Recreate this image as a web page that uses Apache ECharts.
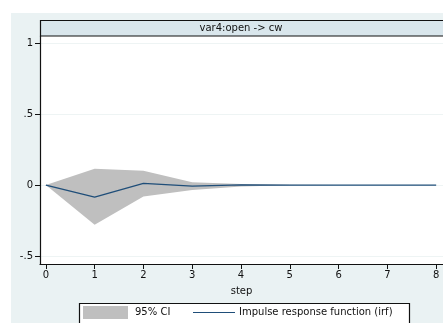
<!DOCTYPE html>
<html><head><meta charset="utf-8">
<script src="https://cdn.jsdelivr.net/npm/echarts@6/dist/echarts.min.js"></script>
<style>html,body{margin:0;padding:0;background:#fff}#c{width:443px;height:323px}</style>
</head><body><div id="c"></div>
<script>
var steps = [0, 1, 2, 3, 4, 5, 6, 7, 8];
var irf   = [0, -0.085, 0.012, -0.008, 0.002, 0, 0, 0, 0];
var ciLow = [0, -0.28, -0.08, -0.035, -0.01, -0.002, 0, 0, 0];
var ciUp  = [0, 0.115, 0.10, 0.02, 0.008, 0.002, 0, 0, 0];
var yTicks = [-0.5, 0, 0.5, 1];
var xTicks = [0, 1, 2, 3, 4, 5, 6, 7, 8];
var panelTitle = 'var4:open -> cw';
var xTitle = 'step';
var legendNames = ['95% CI', 'Impulse response function (irf)'];

var font = '"DejaVu Sans", Verdana, sans-serif';
var chart = echarts.init(document.getElementById('c'));
function fmtY(v){ if (v===0) return '0'; var s=String(v); return s.replace('0.', '.'); }
chart.setOption({
  animation: false,
  backgroundColor: '#fff',
  graphic: [
    {type:'rect', shape:{x:11,y:13,width:440,height:320}, style:{fill:'#eaf2f3'}, z:-10, silent:true},
    {type:'rect', shape:{x:40,y:36,width:410,height:228}, style:{fill:'#fff'}, z:-9, silent:true},
    {type:'rect', shape:{x:40.5,y:20.5,width:410,height:15.5}, style:{fill:'#d9e6ec', stroke:'#111', lineWidth:1.2}, z:5},
    {type:'text', x:241, y:28, style:{text:panelTitle, fill:'#111', font:'10px '+font, align:'center', verticalAlign:'middle'}, z:6},
    {type:'rect', shape:{x:79.5,y:303.5,width:330,height:30}, style:{fill:'#fff', stroke:'#111', lineWidth:1.2}, z:5},
    {type:'rect', shape:{x:83,y:306,width:45,height:13}, style:{fill:'#bfbfbf'}, z:6},
    {type:'text', x:135, y:312.5, style:{text:legendNames[0], fill:'#111', font:'10px '+font, verticalAlign:'middle'}, z:6},
    {type:'line', shape:{x1:193,y1:312.5,x2:235,y2:312.5}, style:{stroke:'#1f4e79', lineWidth:1.2}, z:6},
    {type:'text', x:239, y:312.5, style:{text:legendNames[1], fill:'#111', font:'10px '+font, verticalAlign:'middle'}, z:6}
  ],
  grid: {left:40, top:36, width:407, height:228, containLabel:false},
  xAxis: {
    type:'value', min:-0.12, max:8.14,
    name: xTitle, nameLocation:'middle', nameGap:22,
    nameTextStyle:{color:'#111', fontSize:10, fontFamily:font},
    axisLine:{show:true, onZero:false, lineStyle:{color:'#111', width:1.2}},
    axisTick:{show:true, length:5, customValues:xTicks, lineStyle:{color:'#111'}},
    axisLabel:{customValues:xTicks, color:'#111', fontSize:10, fontFamily:font, margin:6},
    splitLine:{show:false}
  },
  yAxis: {
    type:'value', min:-0.556, max:1.05,
    axisLine:{show:true, onZero:false, lineStyle:{color:'#111', width:1.2}},
    axisTick:{show:true, length:5, customValues:yTicks, lineStyle:{color:'#111'}},
    axisLabel:{customValues:yTicks, formatter:fmtY, color:'#111', fontSize:10, fontFamily:font, margin:7},
    splitLine:{show:true, lineStyle:{color:'#eef4f4', width:1}}
  },
  series: [
    {type:'line', name:'ciLow', data: steps.map(function(s,i){return [s, ciLow[i]];}),
     symbol:'none', lineStyle:{width:0, opacity:0}, areaStyle:{color:'#bfbfbf', opacity:1, origin:0}, silent:true, z:2},
    {type:'line', name:legendNames[0], data: steps.map(function(s,i){return [s, ciUp[i]];}),
     symbol:'none', lineStyle:{width:0, opacity:0}, areaStyle:{color:'#bfbfbf', opacity:1, origin:0}, silent:true, z:2},
    {type:'line', name:legendNames[1], data: steps.map(function(s,i){return [s, irf[i]];}),
     symbol:'none', lineStyle:{color:'#1f4e79', width:1.3}, silent:true, z:3}
  ]
});
</script>
</body></html>
